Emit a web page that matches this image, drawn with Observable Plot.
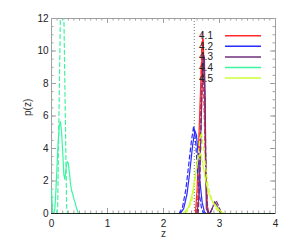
<!DOCTYPE html>
<html><head><meta charset="utf-8">
<script src="https://cdn.jsdelivr.net/npm/d3@7"></script>
<script src="https://cdn.jsdelivr.net/npm/@observablehq/plot@0.6"></script>
<style>body{margin:0;background:#fff}</style>
</head><body><div id="chart"></div>
<script>
// tick values
const xMajor = [0, 1, 2, 3, 4];
const yMajor = [0, 2, 4, 6, 8, 10, 12];
const xMinor = d3.range(0, 40.5).map(i => i / 10);
const yMinor = d3.range(0, 24.5).map(i => i / 2);
const zRef = 2.55;

// series labels & colours
const labels = ["4.1", "4.2", "4.3", "4.4", "4.5"];
const colors = ["#ff2a2a", "#2a2aff", "#72307e", "#3cf5a0", "#ccff33"];

// 4.1
const z41s = [2.57, 2.60, 2.63, 2.66, 2.69, 2.71, 2.73, 2.75, 2.77, 2.80];
const p41s = [0, 1.5, 4.5, 7.5, 10, 10.7, 8, 3.5, 0.8, 0];
const z41d = [2.58, 2.61, 2.64, 2.66, 2.68, 2.69, 2.695, 2.70, 2.72, 2.75, 2.78, 2.80];
const p41d = [0, 0.8, 3, 6.5, 10, 11, 11.2, 10.6, 7, 3, 0.6, 0];
// 4.2
const z42s = [2.30, 2.36, 2.42, 2.47, 2.52, 2.56, 2.59, 2.62, 2.65, 2.69, 2.73, 2.76];
const p42s = [0, 0.3, 1.2, 2.6, 4.2, 5.1, 4.8, 3.5, 2.0, 0.7, 0.1, 0];
const z42d = [2.28, 2.34, 2.40, 2.45, 2.50, 2.54, 2.57, 2.60, 2.64, 2.68, 2.72];
const p42d = [0, 0.4, 1.5, 3.0, 4.5, 5.4, 4.6, 3.0, 1.2, 0.3, 0];
// 4.3
const z43s = [2.60, 2.63, 2.66, 2.69, 2.71, 2.73, 2.745, 2.755, 2.765, 2.80, 2.84, 2.88, 2.92, 2.96, 3.00, 3.04];
const p43s = [0, 1, 4, 8, 9.8, 9.6, 7, 3, 0.3, 0, 0.05, 0.4, 0.7, 0.45, 0.15, 0];
const z43d = [2.62, 2.65, 2.68, 2.70, 2.72, 2.74, 2.76, 2.79, 2.82, 2.87, 2.91, 2.94, 2.98, 3.02, 3.05];
const p43d = [0, 2, 6.5, 9, 9.4, 7, 2.5, 0.2, 0, 0.3, 0.7, 0.8, 0.5, 0.15, 0];
// 4.4
const z44s = [0, 0.02, 0.04, 0.06, 0.08, 0.10, 0.12, 0.14, 0.16, 0.18, 0.20, 0.22, 0.24, 0.26, 0.28, 0.30, 0.32, 0.34, 0.36, 0.38, 0.40, 0.42, 0.44, 0.46, 0.48, 0.50];
const p44s = [1.5, 0, 0, 0.3, 1.5, 3, 4.5, 5.4, 5.65, 5, 3.8, 2.4, 2.1, 2.8, 3.2, 3.1, 2.5, 1.8, 1.4, 1.2, 0.9, 0.7, 0.4, 0.2, 0, 0];
const z44d = [0.09, 0.11, 0.16, 0.19, 0.22, 0.27, 0.29];
const p44d = [0, 0.4, 12.5, 16, 12.5, 0.4, 0];
// 4.5
const z45s = [2.35, 2.45, 2.52, 2.58, 2.62, 2.66, 2.70, 2.75, 2.80, 2.85, 2.90, 2.95, 3.00, 3.05, 3.10];
const p45s = [0, 0.4, 1.3, 2.6, 3.4, 3.7, 3.1, 2.1, 1.3, 0.9, 0.6, 0.4, 0.2, 0.05, 0];
const z45d = [2.40, 2.50, 2.56, 2.61, 2.65, 2.68, 2.71, 2.75, 2.80, 2.86, 2.92, 2.97, 3.02];
const p45d = [0, 0.7, 1.9, 3.4, 4.6, 5.0, 4.2, 2.9, 1.6, 0.9, 0.4, 0.15, 0];

const solid = [[z41s, p41s], [z42s, p42s], [z43s, p43s], [z44s, p44s], [z45s, p45s]];
const dashed = [[z41d, p41d], [z42d, p42d], [z43d, p43d], [z44d, p44d], [z45d, p45d]];
const toRows = (zs, ps) => zs.map((z, i) => ({z, p: ps[i]}));

const W = 291, H = 249, mL = 51, mR = 16, mT = 18, mB = 36;
const fw = W - mL - mR, fh = H - mT - mB;
const grey = "#a0a0a0";
const font = "Liberation Sans, Arial, sans-serif";

const curveMarks = [];
labels.forEach((lab, i) => {
  curveMarks.push(Plot.line(toRows(...dashed[i]), {x: "z", y: "p", stroke: colors[i], strokeWidth: 1.2, strokeDasharray: "4,3", clip: true}));
  curveMarks.push(Plot.line(toRows(...solid[i]), {x: "z", y: "p", stroke: colors[i], strokeWidth: 1.2, clip: true}));
});

const chart = Plot.plot({
  width: W, height: H,
  marginLeft: mL, marginRight: mR, marginTop: mT, marginBottom: mB,
  style: {fontFamily: font, fontSize: "10px", color: "#222", background: "#fff"},
  x: {domain: [0, 4]},
  y: {domain: [0, 12]},
  marks: [
    Plot.frame({stroke: grey}),
    // bottom ticks
    Plot.tickX(xMinor, {x: d => d, insetTop: fh - 2.5, stroke: grey}),
    Plot.tickX(xMajor, {x: d => d, insetTop: fh - 5, stroke: grey}),
    // top ticks
    Plot.tickX(xMinor, {x: d => d, insetBottom: fh - 2.5, stroke: grey}),
    Plot.tickX(xMajor, {x: d => d, insetBottom: fh - 5, stroke: grey}),
    // left ticks
    Plot.tickY(yMinor, {y: d => d, insetRight: fw - 2.5, stroke: grey}),
    Plot.tickY(yMajor, {y: d => d, insetRight: fw - 5, stroke: grey}),
    // right ticks
    Plot.tickY(yMinor, {y: d => d, insetLeft: fw - 2.5, stroke: grey}),
    Plot.tickY(yMajor, {y: d => d, insetLeft: fw - 5, stroke: grey}),
    Plot.ruleX([zRef], {stroke: "#777", strokeDasharray: "1,2"}),
    ...curveMarks,
    Plot.ruleY([0], {stroke: "#1a2a1a"}),
    Plot.axisX(xMajor, {tickSize: 0, tickPadding: 6, label: null, fontSize: 10}),
    Plot.axisY(yMajor, {tickSize: 0, tickPadding: 3, label: null, fontSize: 10}),
    Plot.text(["z"], {frameAnchor: "bottom", dy: 23.5, fontSize: 10, fill: "#333"}),
    Plot.text(["p(z)"], {frameAnchor: "left", dx: -24, rotate: -90, fontSize: 10, fill: "#333"})
  ]
});

// legend inside the plot (top right)
const svg = d3.select(chart);
const lg = svg.append("g").attr("font-family", font).attr("font-size", 10).attr("fill", "#222");
labels.forEach((lab, i) => {
  const cy = 35.7 + i * 10.6;
  lg.append("text").attr("x", 206).attr("y", cy).attr("dy", "0.35em").text(lab);
  lg.append("line").attr("x1", 225).attr("x2", 261).attr("y1", cy).attr("y2", cy)
    .attr("stroke", colors[i]).attr("stroke-width", 1.5);
});

document.getElementById("chart").appendChild(chart);
</script>
</body></html>
